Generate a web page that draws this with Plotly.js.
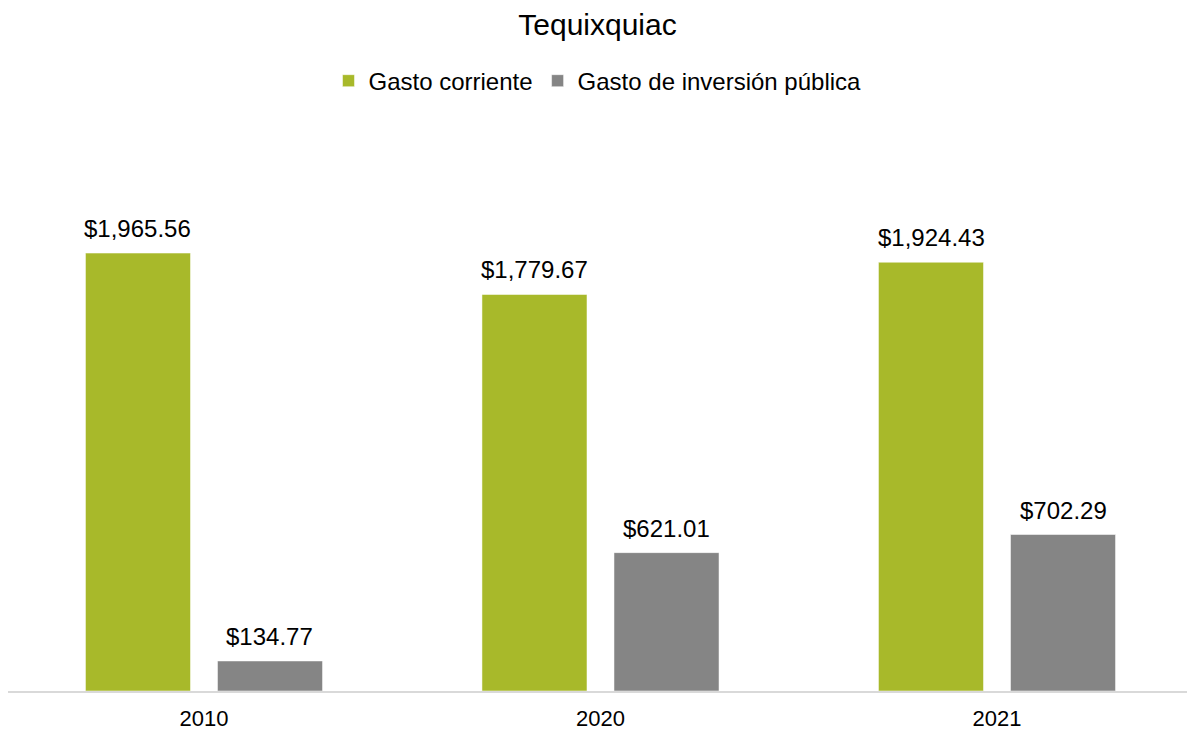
<!DOCTYPE html>
<html><head><meta charset="utf-8">
<script src="https://cdn.plot.ly/plotly-3.0.1.min.js"></script>
<style>html,body{margin:0;padding:0;background:#fff}#chart{width:1195px;height:731px}</style>
</head><body><div id="chart"></div>
<script>
const categories = ["2010", "2020", "2021"];
const gastoCorriente = [1965.56, 1779.67, 1924.43];
const gastoInversion = [134.77, 621.01, 702.29];
const seriesNames = ["Gasto corriente", "Gasto de inversión pública"];
const colors = ["#A8B92A", "#858585"];

const fmt = v => "$" + v.toLocaleString("en-US", {minimumFractionDigits: 2, maximumFractionDigits: 2});

const traces = [
  {type: "bar", name: seriesNames[0], x: categories, y: gastoCorriente,
   marker: {color: colors[0], line: {color: "#ffffff", width: 0.5}}, hoverinfo: "none"},
  {type: "bar", name: seriesNames[1], x: categories, y: gastoInversion,
   marker: {color: colors[1], line: {color: "#ffffff", width: 0.5}}, hoverinfo: "none"}
];

const annotations = [];
[gastoCorriente, gastoInversion].forEach((vals, si) => {
  vals.forEach((v, i) => {
    annotations.push({x: i, y: v, xref: "x", yref: "y", text: fmt(v),
      showarrow: false, yanchor: "bottom", yshift: 9, xshift: si === 0 ? -66 : 66,
      font: {family: "Liberation Sans, Arial, sans-serif", size: 24, color: "#000"}});
  });
});

const layout = {
  width: 1195, height: 731,
  margin: {l: 8, r: 8, t: 134, b: 40},
  paper_bgcolor: "#fff", plot_bgcolor: "#fff",
  font: {family: "Liberation Sans, Arial, sans-serif", color: "#000"},
  title: {text: "Tequixquiac", x: 0.5, xanchor: "center", y: 0.966, yanchor: "middle",
          font: {size: 30, color: "#000"}},
  barmode: "group", bargap: 0.334, bargroupgap: 0.2045,
  showlegend: true,
  legend: {orientation: "h", x: 0.5, xanchor: "center", y: 1.095, yanchor: "middle",
           font: {size: 24, color: "#000"}, itemwidth: 30, traceorder: "normal"},
  xaxis: {type: "category", range: [-0.4943, 2.4792], showline: true, linecolor: "#D9D9D9", linewidth: 2,
          ticks: "", ticklabelstandoff: 7, tickfont: {size: 22, color: "#000"}, showgrid: false, zeroline: false},
  yaxis: {range: [0, 2500], visible: false, showgrid: false, zeroline: false},
  annotations: annotations
};

Plotly.newPlot("chart", traces, layout, {displayModeBar: false, staticPlot: true});
</script></body></html>
